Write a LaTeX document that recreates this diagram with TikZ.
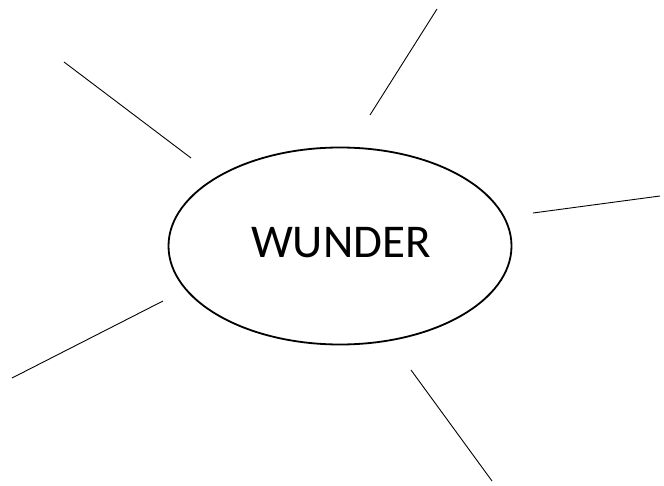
\documentclass[tikz,border=0pt]{standalone}
\usepackage{fontspec}
\setmainfont{Carlito}
\usetikzlibrary{shapes.geometric}
\begin{document}
\begin{tikzpicture}[x=1pt,y=-1pt,
  spoke/.style={draw=black,line width=0.9pt},
  hub/.style={draw=black,line width=1.8pt,ellipse,minimum width=343pt,minimum height=197pt,inner sep=0pt}]
\useasboundingbox (0,0) rectangle (664,486);
\node[hub] (w) at (340,246) {};
\node (t) at (341,243) {\fontsize{47}{54}\selectfont WUNDER};
\coordinate (a1) at (64,62);   \coordinate (a2) at (191,158);
\coordinate (b1) at (437,9);   \coordinate (b2) at (370,115);
\coordinate (c1) at (533,213); \coordinate (c2) at (660,196);
\coordinate (d1) at (163,301); \coordinate (d2) at (12,378);
\coordinate (e1) at (411,370); \coordinate (e2) at (492,481);
\draw[spoke] (a1) -- (a2);
\draw[spoke] (b1) -- (b2);
\draw[spoke] (c1) -- (c2);
\draw[spoke] (d1) -- (d2);
\draw[spoke] (e1) -- (e2);
\end{tikzpicture}
\end{document}
